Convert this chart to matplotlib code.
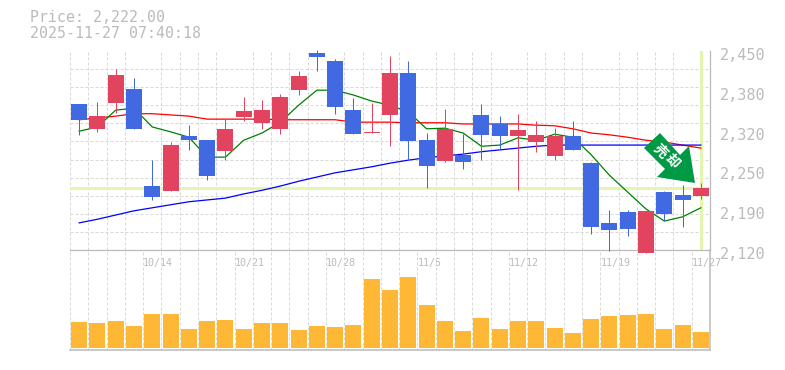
import matplotlib
matplotlib.use("Agg")
from matplotlib import pyplot as plt
from matplotlib.patches import Polygon
from matplotlib.transforms import ScaledTranslation
import numpy as np

W, H = 785, 370

title_lines = ["Price: 2,222.00", "2025-11-27 07:40:18"]
last_price = 2222

# candles, oldest first
opens = [2362, 2321, 2364, 2387, 2226, 2218, 2309, 2302, 2284, 2341, 2331, 2321, 2385, 2447, 2433, 2352, 2314, 2344,
         2414, 2302, 2268, 2278, 2344, 2329, 2309, 2299, 2276, 2309, 2264, 2165, 2183, 2115, 2216, 2211, 2210]
closes = [2336, 2342, 2410, 2321, 2208, 2294, 2302, 2243, 2321, 2351, 2352, 2374, 2409, 2440, 2357, 2312, 2315, 2414,
          2301, 2259, 2321, 2266, 2311, 2309, 2319, 2311, 2309, 2286, 2158, 2153, 2155, 2185, 2180, 2203, 2223]
highs = [2362, 2365, 2420, 2405, 2269, 2299, 2327, 2302, 2337, 2374, 2369, 2379, 2417, 2452, 2437, 2372, 2364, 2442,
         2433, 2314, 2354, 2312, 2362, 2342, 2346, 2334, 2322, 2334, 2266, 2186, 2186, 2185, 2218, 2228, 2231]
lows = [2311, 2316, 2347, 2321, 2203, 2218, 2286, 2236, 2269, 2334, 2321, 2312, 2377, 2417, 2346, 2312, 2314, 2293,
        2269, 2223, 2266, 2254, 2269, 2288, 2220, 2283, 2269, 2286, 2147, 2118, 2143, 2115, 2168, 2158, 2205]

# moving averages
ma_short = [2317, 2324, 2352, 2355, 2324, 2316, 2307, 2274, 2274, 2302, 2314, 2332, 2360, 2385, 2385, 2377, 2367, 2360,
            2349, 2321, 2322, 2314, 2292, 2294, 2306, 2302, 2312, 2307, 2278, 2244, 2216, 2188, 2168, 2175, 2190]
ma_mid = [2336, 2339, 2342, 2346, 2346, 2344, 2342, 2337, 2337, 2337, 2337, 2336, 2336, 2336, 2336, 2332, 2332, 2332,
          2331, 2331, 2331, 2329, 2329, 2329, 2329, 2327, 2326, 2321, 2314, 2311, 2307, 2302, 2299, 2294, 2289]
ma_long = [2165, 2171, 2178, 2185, 2190, 2195, 2200, 2203, 2206, 2213, 2219, 2226, 2234, 2241, 2248, 2253, 2258, 2264,
           2269, 2273, 2276, 2279, 2283, 2286, 2289, 2292, 2294, 2294, 2294, 2294, 2294, 2294, 2294, 2294, 2294]

volumes = [26, 25, 27, 22, 34, 34, 19, 27, 28, 19, 25, 25, 18, 22, 21, 23, 69, 58,
           71, 43, 27, 17, 30, 19, 27, 27, 20, 15, 29, 32, 33, 34, 19, 23, 16]

date_ticks = [4, 9, 14, 19, 24, 29, 34]
date_labels = ["10/14", "10/21", "10/28", "11/5", "11/12", "11/19", "11/27"]
price_ticks = [2120, 2186, 2252, 2318, 2384, 2450]
price_labels = ["2,120", "2,190", "2,250", "2,320", "2,380", "2,450"]

RED = "#e2445f"
BLUE = "#4169e1"
ORANGE = "#ffb835"
PALE = "#e4f5b0"
GRID = "#d8d8d8"
AXIS = "#bbbbbb"
TEXT = "#bbbbbb"
ARROW = "#009944"
MONO = "DejaVu Sans Mono"
PX = 0.72  # one pixel at dpi 100
MA_LW = 0.9

fig = plt.figure(figsize=(W / 100, H / 100), dpi=100)
ax = fig.add_axes([70 / W, 1 - 250 / H, 640 / W, 199 / H])
vol = fig.add_axes([70 / W, 1 - 350 / H, 640 / W, 100 / H])

x = np.arange(len(opens))
edges = np.arange(-0.5, len(opens))
dash = (0, (3, 2))

# price panel
ax.set_xlim(-0.5, len(opens) - 0.5)
ax.set_ylim(2120, 2450)
ax.set_yticks(price_ticks)
ax.set_yticks(np.arange(2120, 2451, 30), minor=True)
ax.set_xticks([edges[i] for i in date_ticks])
ax.set_xticklabels(date_labels, family=MONO, fontsize=7.2, color=TEXT, ha="left")
ax.set_xticks(edges, minor=True)
ax.set_axisbelow(True)
ax.grid(True, which="minor", color=GRID, lw=PX, ls=dash)
ax.tick_params(which="both", length=0)
ax.tick_params(axis="x", which="major", pad=5.5)
ax.yaxis.tick_right()
ax.tick_params(axis="y", which="major", labelsize=11, labelcolor=TEXT, pad=7)
ax.set_yticklabels(price_labels, family=MONO)
shift = ScaledTranslation(0, -3 / 100, fig.dpi_scale_trans)
for lab in ax.get_yticklabels():
    lab.set_transform(lab.get_transform() + shift)
ax.spines["left"].set_visible(False)
ax.spines["top"].set_visible(False)
ax.spines["bottom"].set_color(AXIS)
ax.spines["right"].set_color(AXIS)
ax.spines["bottom"].set_linewidth(0.9)
ax.spines["right"].set_linewidth(0.9)

ax.axhline(last_price, color=PALE, lw=2.2, zorder=1.5)
ax.plot([x[-1], x[-1]], [2123, 2450], color=PALE, lw=2.2, zorder=1.5)

ax.plot(x, ma_mid, color="#ff0000", lw=MA_LW, zorder=2)
ax.plot(x, ma_long, color="#0000ff", lw=MA_LW, zorder=2)
ax.plot(x, ma_short, color="#008000", lw=MA_LW, zorder=2)

for i in x:
    c = RED if closes[i] >= opens[i] else BLUE
    ax.plot([i, i], [lows[i], highs[i]], color=c, lw=PX, zorder=3, clip_on=False, solid_capstyle="butt")
    ax.bar(i, max(abs(closes[i] - opens[i]), 1.5), bottom=min(opens[i], closes[i]), width=0.875, color=c,
           zorder=3.1, clip_on=False)

# panel signal arrow
pts = [(660, 133), (644, 148), (665, 169), (657, 177), (695, 183), (689, 146), (680, 155)]
fig.add_artist(Polygon([(px / W, 1 - py / H) for px, py in pts], closed=True, transform=fig.transFigure,
                       facecolor=ARROW, edgecolor="none", zorder=5))
fig.text(660 / W, 1 - 151 / H, "売", color="white", fontsize=10, fontweight="bold", rotation=-45,
         family=["Noto Sans CJK JP", "DejaVu Sans"], ha="center", va="center", zorder=6)
fig.text(672 / W, 1 - 161 / H, "却", color="white", fontsize=10, fontweight="bold", rotation=-45,
         family=["Noto Sans CJK JP", "DejaVu Sans"], ha="center", va="center", zorder=6)

# volume panel
vol.set_xlim(-0.5, len(opens) - 0.5)
vol.set_ylim(-2, 98)
vol.set_xticks(edges, minor=True)
vol.set_xticks([])
vol.set_yticks([])
vol.set_axisbelow(True)
vol.grid(True, which="minor", axis="x", color=GRID, lw=PX, ls=dash)
vol.tick_params(which="both", length=0)
vol.patch.set_alpha(0)
vol.spines["left"].set_visible(False)
vol.spines["top"].set_visible(False)
vol.spines["bottom"].set_color(AXIS)
vol.spines["right"].set_color(AXIS)
vol.spines["bottom"].set_linewidth(1.1)
vol.spines["right"].set_linewidth(1.1)
vol.bar(x, volumes, width=0.875, color=ORANGE, zorder=3)

fig.text(30 / W, 1 - 18 / H, title_lines[0], family=MONO, fontsize=10.7, color=TEXT, va="center", ha="left")
fig.text(30 / W, 1 - 33 / H, title_lines[1], family=MONO, fontsize=10.7, color=TEXT, va="center", ha="left")

fig.savefig("out.png", dpi=100)
